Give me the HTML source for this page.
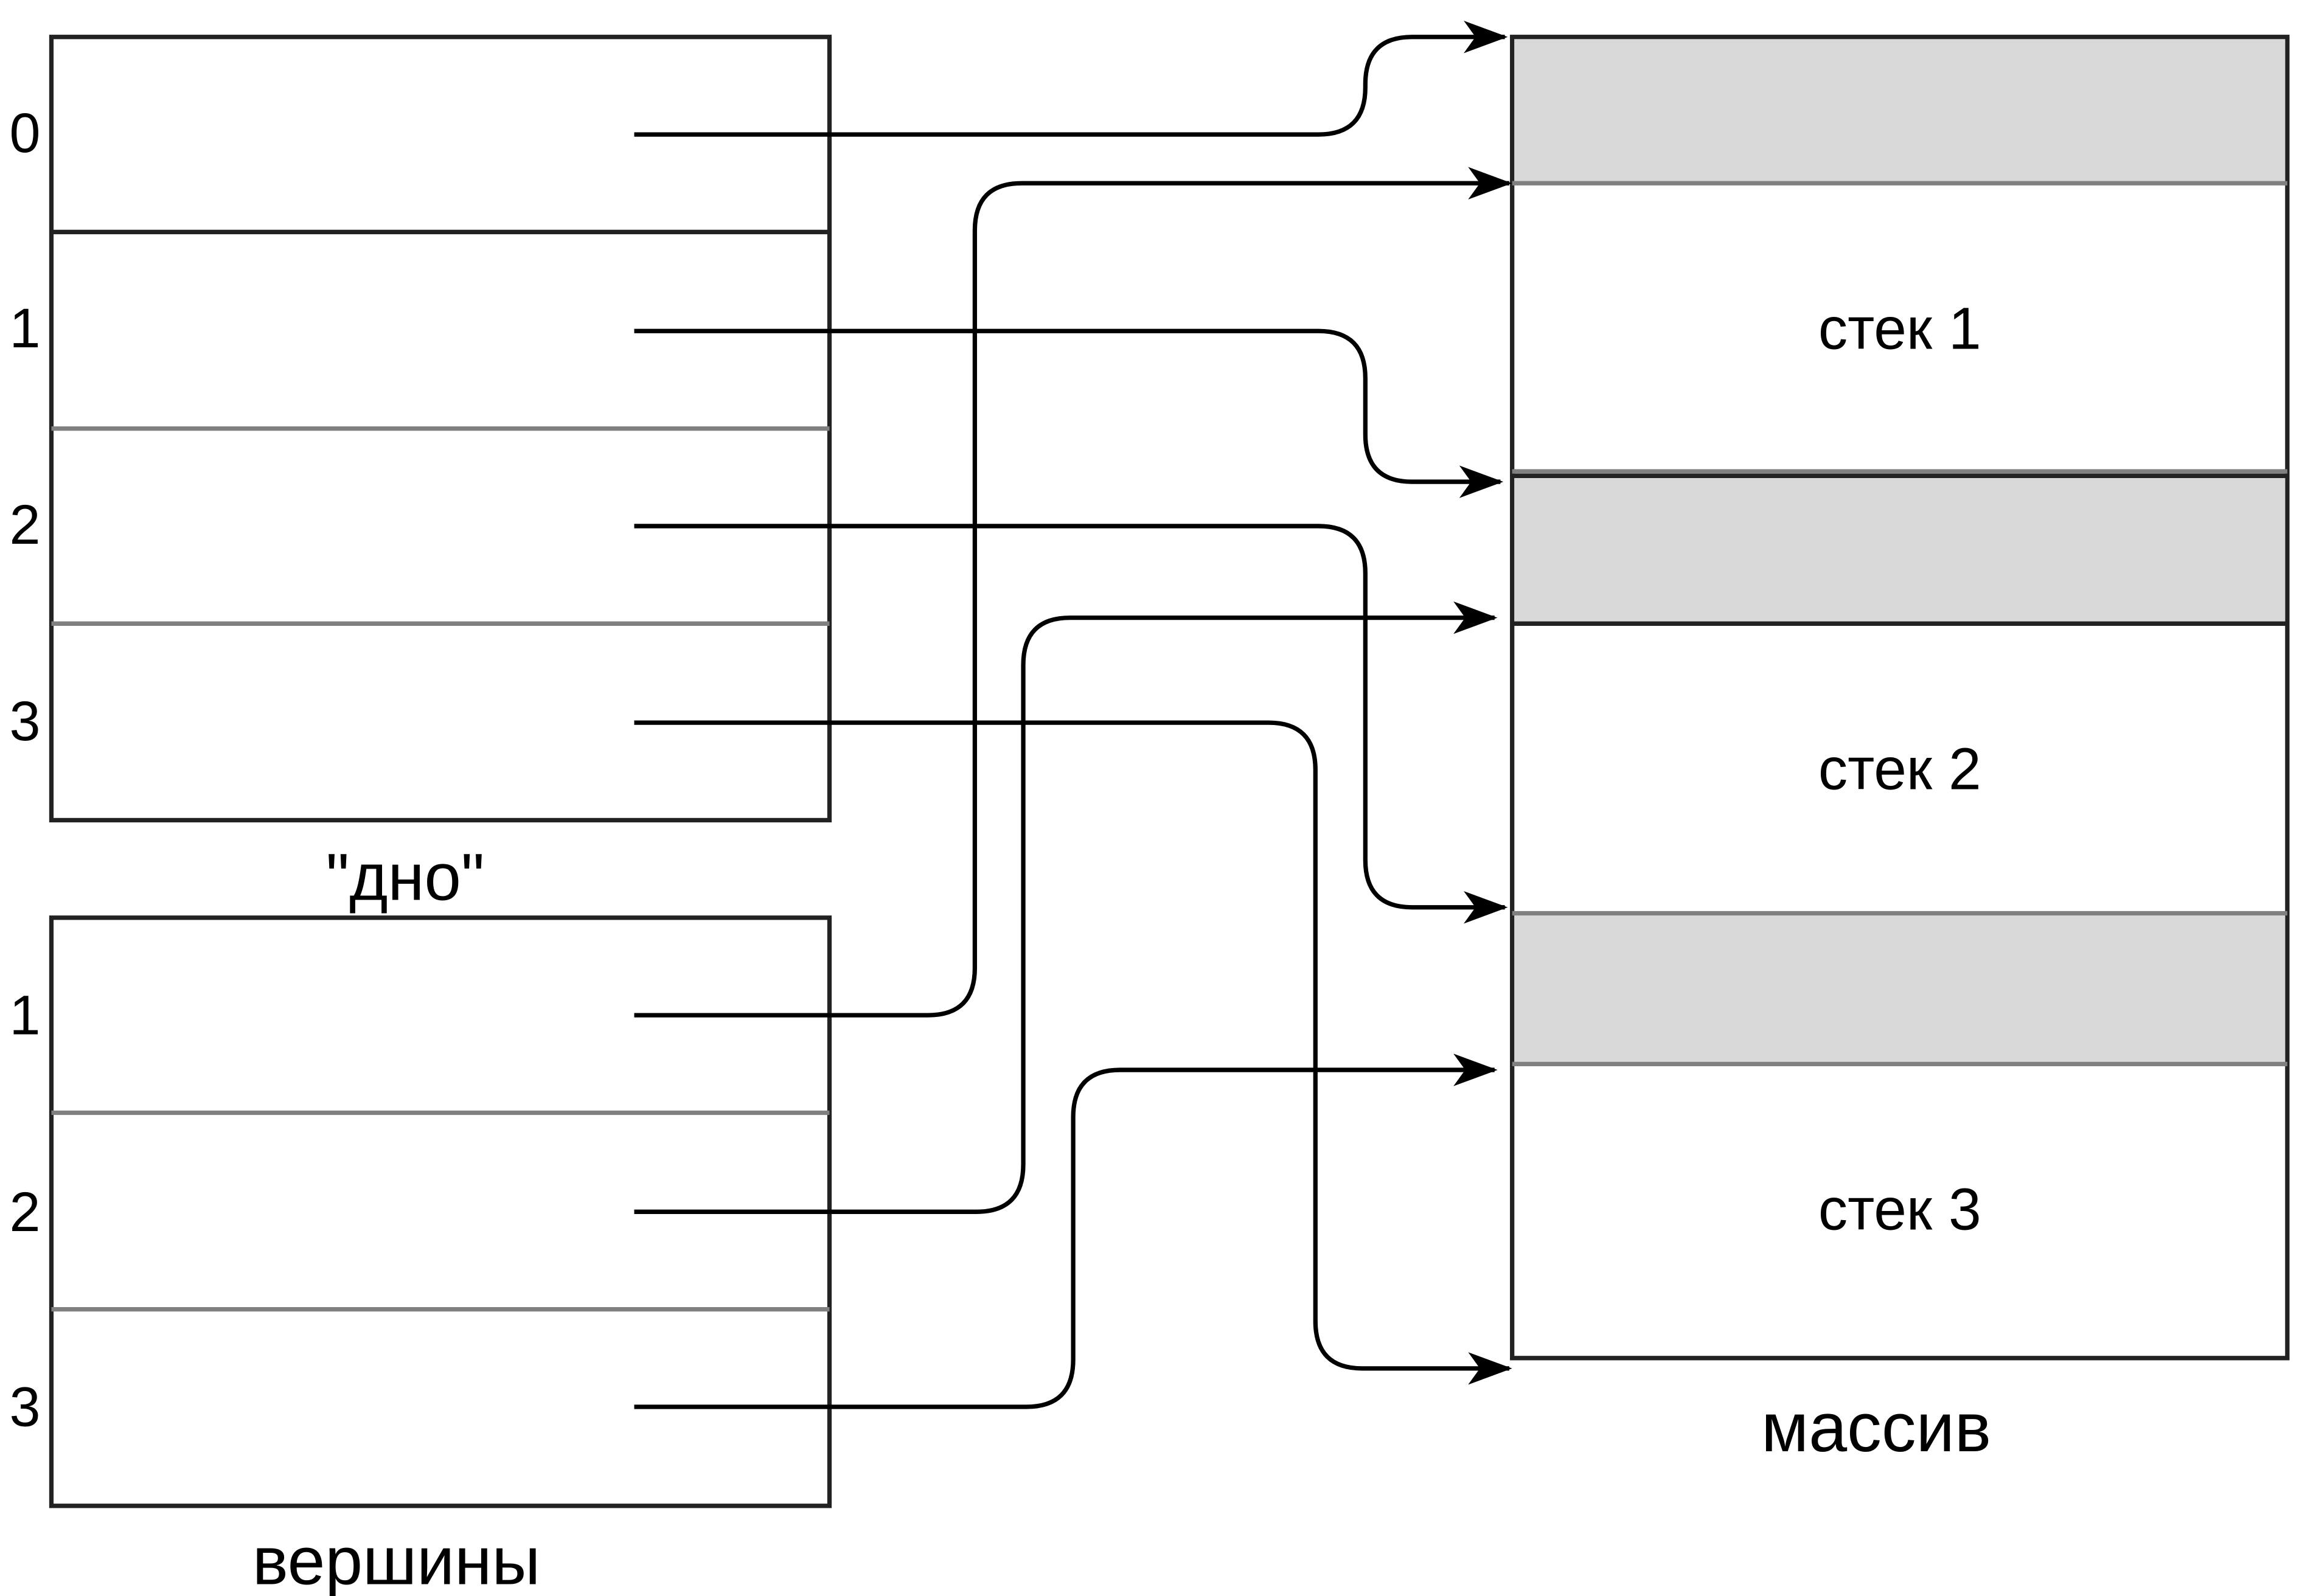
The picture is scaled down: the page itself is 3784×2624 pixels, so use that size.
<!DOCTYPE html>
<html><head><meta charset="utf-8"><style>
html,body{margin:0;padding:0;background:#fff;}
svg{display:block;}
text{font-family:"Liberation Sans",sans-serif;fill:#000;}
</style></head><body>
<svg width="3784" height="2624" viewBox="0 0 1568 1080" preserveAspectRatio="none" xmlns="http://www.w3.org/2000/svg">
<defs>
<marker id="a" viewBox="0 0 30 22" refX="28" refY="11" markerWidth="30" markerHeight="22" markerUnits="userSpaceOnUse" orient="auto">
<path d="M0 0 L30 11 L0 22 L8 11 Z" fill="#000"/>
</marker>
</defs>
<rect x="35" y="25" width="530" height="530" fill="#fff" stroke="#222" stroke-width="3"/>
<line x1="35" y1="157" x2="565" y2="157" stroke="#222" stroke-width="3"/>
<line x1="35" y1="290" x2="565" y2="290" stroke="#808080" stroke-width="3"/>
<line x1="35" y1="422" x2="565" y2="422" stroke="#808080" stroke-width="3"/>
<text x="17" y="103" font-size="38" text-anchor="middle">0</text>
<text x="17" y="235" font-size="38" text-anchor="middle">1</text>
<text x="17" y="368" font-size="38" text-anchor="middle">2</text>
<text x="17" y="501" font-size="38" text-anchor="middle">3</text>
<text x="276" y="609" font-size="45" text-anchor="middle">"дно"</text>
<rect x="35" y="621" width="530" height="398" fill="#fff" stroke="#222" stroke-width="3"/>
<line x1="35" y1="753" x2="565" y2="753" stroke="#808080" stroke-width="3"/>
<line x1="35" y1="886" x2="565" y2="886" stroke="#808080" stroke-width="3"/>
<text x="17" y="700" font-size="38" text-anchor="middle">1</text>
<text x="17" y="833" font-size="38" text-anchor="middle">2</text>
<text x="17" y="965" font-size="38" text-anchor="middle">3</text>
<text x="270" y="1072" font-size="46" text-anchor="middle">вершины</text>
<rect x="1030" y="25" width="528" height="894" fill="#fff" stroke="#222" stroke-width="3"/>
<rect x="1031.5" y="26.5" width="525" height="97.5" fill="#d9d9d9"/>
<rect x="1031.5" y="322" width="525" height="100" fill="#d9d9d9"/>
<rect x="1031.5" y="618" width="525" height="102" fill="#d9d9d9"/>
<line x1="1030" y1="124" x2="1558" y2="124" stroke="#808080" stroke-width="3"/>
<line x1="1030" y1="319" x2="1558" y2="319" stroke="#808080" stroke-width="3"/>
<line x1="1030" y1="322" x2="1558" y2="322" stroke="#222" stroke-width="3"/>
<line x1="1030" y1="422" x2="1558" y2="422" stroke="#222" stroke-width="3"/>
<line x1="1030" y1="618" x2="1558" y2="618" stroke="#808080" stroke-width="3"/>
<line x1="1030" y1="720" x2="1558" y2="720" stroke="#808080" stroke-width="3"/>
<text x="1294" y="236" font-size="40" text-anchor="middle">стек 1</text>
<text x="1294" y="534" font-size="40" text-anchor="middle">стек 2</text>
<text x="1294" y="832" font-size="40" text-anchor="middle">стек 3</text>
<text x="1278" y="982" font-size="47" text-anchor="middle">массив</text>
<g fill="none" stroke="#000" stroke-width="3" marker-end="url(#a)">
<path d="M432 91 H898 Q930 91 930 59 V57 Q930 25 962 25 H1025"/>
<path d="M432 687 H632 Q664 687 664 655 V156 Q664 124 696 124 H1028"/>
<path d="M432 224 H898 Q930 224 930 256 V294 Q930 326 962 326 H1022"/>
<path d="M432 356 H898 Q930 356 930 388 V582 Q930 614 962 614 H1025"/>
<path d="M432 820 H665 Q697 820 697 788 V450 Q697 418 729 418 H1018"/>
<path d="M432 489 H864 Q896 489 896 521 V894 Q896 926 928 926 H1028"/>
<path d="M432 952 H699 Q731 952 731 920 V756 Q731 724 763 724 H1018"/>
</g>
</svg>
</body></html>
